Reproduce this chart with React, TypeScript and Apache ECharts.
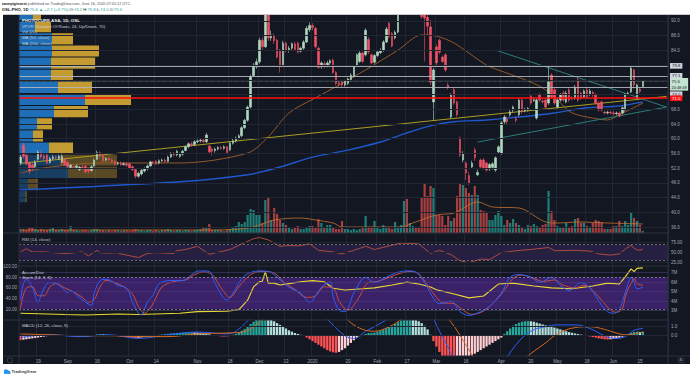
import React, { useEffect, useRef } from 'react';
import * as echarts from 'echarts';

// ---------- calendar ----------
const START_DATE = '2019-08-09';
const HOLIDAYS = ['2019-12-24', '2019-12-25', '2019-12-26', '2019-12-31', '2020-01-01', '2020-04-09', '2020-04-10', '2020-04-13', '2020-05-01', '2020-05-21', '2020-06-01'];
const SLOT_COUNT = 220;

const X_TICK_LABELS: Record<string, string> = {
  '2019-08-19': '19', '2019-09-02': 'Sep', '2019-09-16': '16', '2019-10-01': 'Oct', '2019-10-14': '14',
  '2019-11-01': 'Nov', '2019-11-18': '18', '2019-12-02': 'Dec', '2019-12-13': '13', '2020-01-02': '2020',
  '2020-01-20': '20', '2020-02-03': 'Feb', '2020-02-17': '17', '2020-03-02': 'Mar', '2020-03-16': '16',
  '2020-04-01': 'Apr', '2020-04-20': '20', '2020-05-04': 'May', '2020-05-18': '18', '2020-06-02': 'Jun', '2020-06-15': '15',
};

// ---------- price data: [open, close, low, high] ----------
const OHLC: number[][] = [
  [53.4, 55.0, 52.8, 55.6], [58.3, 55.2, 54.6, 58.9], [55.5, 53.2, 52.8, 56.0], [53.4, 51.2, 50.4, 53.8], [52.9, 52.0, 51.3, 53.6],
  [52.4, 53.6, 51.9, 54.2], [54.4, 56.4, 54.0, 56.9], [56.2, 55.0, 54.6, 56.8], [55.2, 54.6, 54.0, 55.8], [55.6, 53.4, 53.0, 56.0],
  [53.6, 54.6, 53.2, 55.0], [54.6, 55.0, 54.2, 55.6], [55.0, 54.8, 54.3, 55.5], [54.6, 55.2, 54.2, 55.7], [53.6, 55.2, 53.2, 55.8],
  [54.4, 52.9, 52.6, 54.8], [53.6, 52.4, 52.0, 54.0], [52.2, 52.8, 51.9, 53.2], [52.4, 52.2, 51.8, 52.8], [52.2, 52.6, 51.9, 53.0],
  [51.6, 52.3, 51.2, 52.6], [52.3, 52.0, 51.6, 52.8], [52.5, 51.0, 50.6, 52.8], [51.8, 51.2, 50.6, 52.2], [51.4, 52.4, 51.0, 52.8],
  [52.6, 54.2, 52.4, 54.6], [54.4, 56.2, 54.2, 56.8], [56.2, 55.2, 54.8, 56.6], [55.4, 54.0, 53.6, 55.8], [54.2, 54.6, 53.8, 55.0],
  [54.6, 54.2, 53.8, 55.0], [54.2, 53.8, 53.4, 54.6], [53.8, 53.2, 52.8, 54.2], [53.2, 53.4, 52.8, 53.8], [53.4, 53.0, 52.6, 53.8],
  [53.0, 53.2, 52.6, 53.6], [53.2, 52.8, 52.4, 53.6], [53.2, 52.0, 51.8, 53.4], [52.4, 51.6, 51.2, 52.8], [51.6, 49.8, 49.2, 51.8],
  [49.8, 50.6, 49.4, 51.0], [50.4, 51.4, 50.0, 51.8], [51.2, 51.8, 50.8, 52.2], [51.8, 52.6, 51.4, 53.0], [52.6, 53.7, 52.4, 54.0],
  [53.6, 53.4, 53.0, 54.0], [53.8, 53.2, 52.8, 54.2], [53.4, 54.0, 53.0, 54.4], [54.0, 54.2, 53.6, 54.6], [54.2, 53.8, 53.4, 54.6],
  [53.8, 55.0, 53.6, 55.4], [55.0, 56.0, 54.8, 56.4], [56.0, 55.6, 55.2, 56.4], [55.6, 56.6, 55.2, 57.0], [55.2, 55.8, 54.8, 56.2],
  [55.8, 56.6, 55.4, 57.0], [56.8, 57.8, 56.6, 58.2], [57.8, 58.6, 57.4, 59.0], [58.6, 58.2, 57.8, 59.2], [58.4, 59.2, 58.0, 59.6],
  [59.2, 59.4, 58.8, 59.8], [59.4, 59.6, 59.0, 60.0], [59.6, 59.2, 58.8, 60.0], [59.2, 61.0, 58.8, 61.6], [58.0, 56.4, 56.0, 58.4],
  [57.2, 56.6, 55.4, 57.6], [56.8, 57.2, 56.2, 57.6], [57.2, 57.6, 56.8, 58.0], [57.6, 57.4, 57.0, 58.0], [57.4, 57.8, 57.0, 58.2],
  [57.8, 56.2, 55.8, 58.0], [57.0, 58.8, 56.6, 59.2], [58.8, 59.4, 58.4, 60.0], [59.4, 60.2, 59.0, 60.6], [60.2, 60.8, 59.8, 61.2],
  [60.8, 63.0, 60.4, 63.4], [63.0, 65.0, 62.6, 65.4], [65.0, 68.6, 64.6, 69.0], [68.6, 76.8, 68.2, 77.4], [77.2, 80.0, 76.8, 80.6],
  [79.6, 80.9, 79.0, 81.8], [80.9, 86.8, 80.4, 87.4], [86.8, 85.0, 84.2, 87.6], [85.0, 96.0, 84.6, 99.0], [95.5, 87.4, 86.6, 97.0],
  [87.4, 88.2, 86.6, 89.4], [88.0, 86.6, 85.8, 88.6], [86.8, 82.2, 81.8, 87.2], [84.0, 79.6, 78.0, 84.4], [80.0, 86.0, 79.6, 86.6],
  [86.0, 84.0, 83.4, 86.4], [84.0, 84.6, 83.4, 85.2], [84.6, 85.8, 84.0, 86.2], [85.8, 84.2, 83.8, 86.4], [86.0, 83.6, 83.2, 86.4],
  [83.8, 84.6, 83.4, 85.0], [84.6, 86.3, 84.2, 86.8], [86.3, 90.0, 86.0, 90.6], [89.6, 90.8, 89.0, 91.6], [90.8, 90.2, 89.4, 91.4],
  [90.0, 85.0, 84.6, 90.4], [84.6, 79.4, 79.0, 85.0], [79.6, 80.6, 79.0, 81.0], [80.4, 79.8, 79.2, 81.0], [79.8, 80.6, 79.4, 81.2],
  [80.6, 81.2, 80.0, 81.6], [81.4, 78.0, 77.6, 81.8], [78.0, 75.0, 74.6, 78.4], [75.2, 74.8, 74.2, 75.8], [75.4, 74.6, 74.0, 75.8],
  [74.6, 75.6, 74.2, 76.0], [75.0, 76.2, 74.6, 76.6], [76.0, 77.3, 75.6, 77.8], [77.0, 79.6, 76.6, 80.0], [80.0, 82.8, 79.6, 83.2],
  [81.0, 83.3, 80.6, 83.8], [83.3, 81.0, 80.6, 83.6], [82.8, 89.5, 82.4, 90.0], [87.0, 83.6, 83.0, 87.6], [82.8, 80.6, 80.2, 83.2],
  [80.8, 82.6, 80.4, 83.0], [82.6, 83.6, 82.2, 84.0], [83.4, 84.0, 83.0, 84.6], [84.0, 86.3, 83.6, 86.8], [86.3, 89.8, 86.0, 90.4],
  [91.4, 87.7, 87.2, 91.8], [88.6, 85.2, 84.8, 89.0], [87.4, 89.0, 87.0, 89.4], [89.0, 94.4, 88.6, 95.0], [94.4, 97.5, 94.0, 98.4],
  [97.5, 99.0, 96.6, 100.2], [99.0, 98.0, 96.8, 100.4], [98.0, 101.0, 97.6, 101.8], [101.0, 102.5, 100.2, 104.0], [102.5, 100.0, 99.0, 103.0],
  [100.0, 98.0, 97.0, 100.8], [98.0, 93.2, 92.6, 98.4], [94.0, 92.8, 81.0, 95.0], [93.0, 90.6, 88.0, 94.0], [90.4, 75.4, 74.6, 92.3],
  [70.0, 78.7, 65.0, 79.2], [84.9, 80.6, 80.0, 85.6], [86.8, 83.5, 83.0, 87.2], [82.2, 81.0, 80.6, 82.6], [82.8, 78.7, 78.2, 83.2],
  [74.6, 74.0, 73.4, 75.2], [65.9, 71.9, 65.4, 72.4], [73.3, 69.7, 69.2, 73.8], [70.0, 66.5, 66.0, 70.4], [60.2, 55.6, 55.0, 60.6],
  [54.2, 56.0, 53.6, 56.6], [53.4, 50.7, 48.8, 53.8], [50.0, 48.0, 47.4, 51.0], [52.3, 53.4, 51.8, 54.0], [57.0, 54.8, 54.0, 57.6],
  [50.2, 50.8, 49.8, 51.6], [54.2, 52.3, 51.8, 54.6], [54.2, 52.0, 51.6, 54.8], [53.4, 51.5, 51.0, 53.8], [51.8, 53.0, 51.2, 53.4],
  [52.2, 53.2, 51.6, 53.6], [51.5, 54.8, 51.0, 55.2], [56.4, 57.8, 56.0, 58.2], [56.0, 64.3, 55.6, 64.8], [64.6, 65.9, 64.0, 66.4],
  [65.4, 64.6, 64.0, 66.0], [66.5, 67.3, 66.0, 67.8], [67.8, 68.6, 67.2, 69.0], [65.4, 65.0, 64.4, 66.0], [66.5, 70.5, 66.0, 71.0],
  [70.5, 67.3, 66.8, 71.0], [67.6, 67.8, 67.2, 68.4], [67.8, 68.2, 67.4, 68.6], [71.6, 69.7, 69.2, 72.0], [70.4, 70.6, 70.0, 71.2],
  [65.6, 70.5, 65.2, 71.0], [71.9, 70.5, 70.0, 72.4], [70.2, 70.0, 69.6, 70.8], [70.5, 68.6, 68.2, 71.0], [69.7, 75.4, 69.2, 79.5],
  [77.3, 71.3, 70.8, 77.8], [73.3, 69.7, 69.2, 73.8], [68.6, 70.5, 68.2, 71.0], [70.5, 71.9, 70.0, 72.4], [72.4, 70.5, 70.0, 73.0],
  [70.0, 72.4, 69.6, 73.0], [73.3, 70.5, 70.0, 73.8], [71.0, 70.8, 70.4, 71.6], [71.0, 74.0, 70.6, 74.6], [76.0, 70.5, 70.0, 76.6],
  [72.4, 71.0, 70.6, 72.8], [71.4, 73.0, 71.0, 73.4], [73.3, 71.4, 71.0, 73.8], [72.0, 73.0, 71.6, 73.6], [72.6, 71.9, 71.4, 73.0],
  [71.9, 69.7, 69.2, 72.4], [69.7, 67.8, 67.4, 70.2], [70.0, 67.8, 67.4, 70.4], [67.2, 67.0, 66.6, 67.6], [67.0, 67.2, 66.6, 67.6],
  [67.2, 67.0, 66.6, 67.6], [67.0, 66.8, 66.4, 67.6], [66.8, 67.0, 66.4, 67.4], [67.0, 66.2, 65.8, 67.4], [67.0, 68.4, 66.6, 68.8],
  [67.8, 71.9, 67.4, 72.4], [72.2, 72.4, 71.8, 72.8], [72.7, 79.2, 72.4, 79.8], [78.7, 74.6, 73.6, 79.0], [71.0, 74.6, 70.6, 75.0],
  [73.5, 72.9, 72.4, 73.8], [74.2, 75.6, 74.0, 75.8],
];

const VOLUME: number[] = [
  4, 4, 3, 5, 6, 4, 3, 4, 3, 3, 4, 5, 3, 3, 4, 3,
  3, 7, 3, 3, 2, 3, 3, 2, 3, 4, 4, 3, 3, 2, 3, 2, 3, 3, 2, 3, 3, 2, 3, 4, 3,
  3, 2, 3, 3, 2, 3, 2, 3, 3, 4, 3, 2, 3, 3, 2, 3, 3, 2, 3, 3, 4, 5, 5, 9, 3, 3, 3, 3, 2, 3,
  4, 5, 7, 11, 9, 11, 18, 24, 23, 18,
  18, 10, 33, 36, 13, 25, 19, 13, 10, 8,
  5, 4, 5, 7, 4, 4, 5, 7, 7, 5,
  14, 10, 6, 8, 8, 5, 4, 4, 12, 4,
  4, 3, 4, 3, 4, 5, 17, 6, 5, 12,
  5, 4, 8, 5, 5, 4, 11, 6, 8, 32,
  34, 10, 7, 6, 5, 36, 50, 37, 47, 45,
  18, 18, 17, 8, 17, 12, 15, 37, 50, 48,
  45, 40, 38, 47, 38, 23, 22, 20, 13, 13,
  18, 22, 17, 8, 13, 10, 14, 10, 8, 6,
  4, 8, 7, 9, 7, 6, 8, 9, 42, 22,
  13, 7, 6, 6, 10, 6, 7, 14, 15, 10,
  10, 7, 6, 10, 13, 12, 11, 4, 4, 4,
  7, 7, 12, 7, 12, 8, 21, 15, 12, 8, 2,
];

const VOL_MA_PTS = [[0, 3], [40, 3], [60, 3], [72, 3.5], [79, 6], [86, 13], [95, 15], [100, 13], [106, 10], [109, 6], [120, 6], [129, 6], [133, 10], [141, 18], [147, 20], [155, 31], [160, 26], [169, 25], [178, 11], [182, 10], [189, 11], [199, 10], [211, 9]];

const MA50_PTS = [[0, 50.7], [10, 52.3], [27, 53.4], [40, 53.4], [54, 53.4], [77, 56.1], [84, 60.5], [91, 67.0], [100, 71.1], [108, 74.6], [117, 78.7], [128, 84.1], [136, 88.2], [141, 87.9], [147, 86.0], [158, 80.0], [164, 78.1], [173, 75.4], [178, 73.3], [183, 69.7], [187, 67.0], [194, 65.6], [199, 65.1], [203, 66.5], [211, 69.7]];
const MA200_PTS = [[0, 46.1], [54, 48.3], [77, 50.2], [88, 52.3], [99, 55.0], [111, 56.9], [122, 59.1], [131, 61.6], [139, 63.5], [147, 64.6], [158, 65.1], [169, 65.9], [181, 67.0], [192, 68.4], [203, 68.9], [211, 70.0]];

const TREND_YELLOW = [[0, 53.3], [219, 71.5]];
const TREND_TEAL_DOWN = [[161, 84.1], [219, 68.6]];
const TREND_TEAL_UP = [[155, 59.1], [219, 68.6]];

// VPVR rows: [low, high, upVolume, downVolume, inValueArea]
const VPVR_ROWS = [
  [42.6, 45.9, 6, 2, 0], [45.9, 49.2, 9, 10, 0], [49.2, 52.5, 49, 49, 0], [52.5, 55.8, 41, 57, 0],
  [55.8, 59.1, 30, 24, 1], [59.1, 62.4, 14, 10, 1], [62.4, 65.7, 18, 15, 1], [65.7, 69.0, 35, 34, 1],
  [69.0, 72.3, 66, 46, 1], [72.3, 75.6, 39, 34, 1], [75.6, 78.9, 32, 22, 1], [78.9, 82.2, 32, 44, 1],
  [82.2, 85.5, 33, 47, 1], [85.5, 88.8, 33, 21, 1], [88.8, 92.1, 16, 16, 1], [92.1, 95.4, 14, 8, 1],
];

const PRICE_TICKS = [36, 40, 44, 48, 52, 56, 60, 64, 68, 72, 76, 80, 84, 88, 92];
const PRICE_TICKS_HIDDEN = [72, 76, 80];
const GRAY_LEVELS = [79.8, 77.1];
const LOWER_GRAY_LEVEL = 74.0;
const RED_LEVEL = 71.0;
const LAST_PRICE = 75.6;
const COUNTDOWN = '20:48:48';

const RSI_PTS = [[0, 52], [2, 60], [4, 52], [8, 52], [13, 49], [16, 48], [21, 52], [23, 42], [26, 56], [27, 50], [29, 49], [33, 50], [34, 47], [40, 38], [43, 48], [45, 50], [46, 50], [52, 48], [53, 55], [56, 58], [60, 66], [64, 46], [71, 58], [76, 75], [79, 85], [81, 88], [84, 82], [88, 66], [91, 68], [94, 67], [98, 72], [101, 56], [106, 52], [109, 47], [113, 56], [117, 66], [120, 58], [125, 67], [129, 74], [135, 72], [139, 48], [142, 56], [146, 45], [149, 30], [152, 25], [156, 34], [159, 33], [163, 50], [168, 55], [173, 58], [179, 63], [181, 55], [188, 56], [193, 54], [196, 47], [200, 44], [203, 47], [205, 59], [207, 69], [208, 61], [209, 57], [210, 56], [211, 59]];
const RSI_TICKS = [75, 50, 25];
const RSI_BANDS = [70, 30];

const STOCH_K_PTS = [[0, 37], [1, 68], [2, 76], [4, 61], [6, 33], [7, 46], [9, 68], [11, 70], [14, 61], [16, 51], [17, 55], [19, 46], [22, 33], [24, 27], [25, 50], [27, 74], [29, 76], [33, 65], [36, 59], [38, 33], [40, 12], [41, 9], [43, 33], [45, 46], [47, 68], [52, 74], [55, 74], [57, 80], [59, 89], [61, 92], [64, 91], [66, 68], [70, 37], [72, 50], [76, 83], [81, 92], [84, 91], [87, 80], [91, 61], [95, 50], [98, 33], [102, 61], [105, 71], [106, 43], [108, 18], [110, 15], [113, 50], [117, 80], [120, 70], [124, 80], [127, 88], [131, 92], [134, 90], [137, 70], [140, 40], [142, 30], [146, 35], [149, 15], [152, 8], [156, 15], [159, 25], [163, 50], [166, 80], [169, 85], [173, 80], [176, 70], [180, 80], [183, 65], [186, 55], [190, 70], [193, 60], [197, 27], [199, 15], [201, 12], [203, 18], [204, 33], [206, 68], [207, 80], [208, 71], [209, 58], [211, 61]];
const STOCH_D_PTS = [[0, 21], [2, 60], [4, 62], [6, 45], [8, 45], [10, 62], [12, 68], [15, 60], [18, 52], [21, 42], [23, 33], [25, 38], [27, 62], [29, 74], [32, 70], [35, 62], [38, 48], [40, 25], [42, 12], [44, 22], [46, 42], [48, 62], [52, 72], [56, 75], [59, 85], [62, 90], [65, 85], [68, 60], [71, 42], [74, 62], [78, 85], [82, 91], [86, 88], [89, 72], [93, 57], [97, 42], [100, 45], [103, 62], [106, 60], [108, 35], [111, 18], [114, 35], [118, 70], [121, 72], [125, 80], [129, 88], [132, 91], [135, 86], [138, 65], [141, 42], [143, 32], [147, 30], [150, 18], [153, 10], [157, 16], [160, 30], [164, 55], [167, 78], [170, 84], [174, 78], [177, 72], [181, 75], [184, 65], [188, 60], [191, 65], [194, 55], [198, 30], [200, 18], [202, 14], [204, 20], [205, 43], [206, 58], [207, 68], [208, 78], [209, 68], [211, 65]];
const STOCH_TICKS = [100, 80, 60, 40, 20];
const STOCH_BANDS = [80, 20];

// Accumulation / Distribution, millions
const AD_PTS = [[0, 2.73], [15, 2.6], [22, 2.55], [33, 2.65], [40, 2.6], [54, 2.73], [60, 2.9], [70, 2.95], [74, 3.1], [75, 3.42], [77, 4.1], [79, 5.5], [81, 6.05], [82, 6.1], [83, 7.1], [84, 5.9], [86, 5.9], [88, 5.7], [91, 5.85], [95, 6.05], [99, 6.16], [103, 6.05], [106, 5.36], [110, 5.18], [116, 5.3], [120, 5.4], [126, 5.7], [131, 6.0], [135, 5.8], [139, 5.5], [141, 5.2], [147, 4.75], [152, 4.35], [157, 4.55], [162, 5.8], [167, 5.9], [174, 5.6], [180, 5.4], [187, 5.3], [194, 5.6], [199, 5.9], [203, 5.8], [205, 6.55], [207, 7.4], [208, 7.1], [209, 7.45], [211, 7.5]];
const AD_TICKS = [7, 6, 5, 4, 3];

const MACD_PTS = [[0, -0.2], [10, 0.1], [20, -0.1], [30, 0.1], [40, -0.3], [50, 0.1], [60, 0.4], [70, 0.2], [75, 1.0], [80, 3.0], [84, 5.0], [90, 4.5], [95, 3.8], [100, 3.0], [105, 1.5], [110, 0.0], [113, -0.3], [117, 0.5], [120, 1.0], [125, 2.0], [130, 3.5], [135, 4.2], [139, 2.5], [142, 0.5], [146, -2.0], [150, -5.0], [155, -6.5], [160, -5.5], [163, -3.5], [168, -1.0], [173, 0.5], [178, 1.0], [182, 1.2], [188, 1.2], [193, 0.8], [198, 0.0], [202, -0.3], [205, -0.1], [208, 0.6], [211, 0.8]];
const SIGNAL_PTS = [[0, 0.2], [10, 0.1], [20, 0.0], [30, 0.0], [40, -0.1], [50, -0.1], [60, 0.2], [70, 0.3], [75, 0.4], [80, 1.2], [84, 2.5], [90, 3.8], [95, 4.0], [100, 3.8], [105, 3.2], [110, 2.0], [113, 1.2], [117, 0.6], [120, 0.5], [125, 1.0], [130, 2.0], [135, 3.0], [139, 3.2], [142, 2.8], [146, 1.5], [150, -0.5], [155, -3.0], [160, -4.6], [163, -4.6], [168, -3.5], [173, -2.0], [178, -0.8], [182, 0.2], [188, 0.9], [193, 1.0], [198, 0.7], [202, 0.3], [205, 0.1], [208, 0.2], [211, 0.4]];
const MACD_HIST: number[] = [
  -0.5, -0.45, -0.4, -0.35, -0.3, -0.25,
  -0.2, -0.15, -0.1, -0.05, 0.0, 0.05, 0.08,
  0.06, 0.04, 0.02, -0.02, -0.06, -0.1, -0.12, -0.14,
  -0.15, -0.12, -0.08, 0.0, 0.08, 0.15, 0.18, 0.16,
  0.12, 0.08, 0.04, 0.0, -0.04, -0.08, -0.12, -0.15,
  -0.2, -0.25, -0.28, -0.25, -0.2, -0.15, -0.1, -0.04,
  0.02, 0.06, 0.1, 0.14, 0.17, 0.2, 0.24, 0.27,
  0.3, 0.32, 0.34, 0.36, 0.38, 0.4, 0.38, 0.35,
  0.32, 0.28, 0.24, 0.15, 0.08, 0.02,
  -0.04, -0.08, -0.1, -0.06, 0.02, 0.1, 0.2,
  0.35, 0.55, 0.75, 1.0, 1.3, 1.55, 1.75, 1.9, 2.0, 2.05, 2.0,
  1.8, 1.6, 1.4, 1.2, 1.0, 0.8, 0.6, 0.45, 0.3, 0.2, 0.1, 0.02,
  -0.2, -0.4, -0.6, -0.8, -1.0, -1.2, -1.4, -1.6, -1.75, -1.85, -1.9, -1.8, -1.6, -1.4,
  -1.1, -0.8, -0.5, -0.25, -0.05, 0.1, 0.2, 0.3,
  0.3, 0.35, 0.45, 0.55, 0.7, 0.85, 1.0, 1.1, 1.3, 1.5,
  1.7, 1.9, 2.0, 2.1, 2.0, 1.8, 1.6, 1.4, 1.1, 0.7,
  0.1, -0.6, -1.2, -1.8, -2.3, -2.8, -3.2, -3.5, -3.6, -3.5, -3.3, -3.0,
  -2.7, -2.4, -2.2, -2.0, -1.8, -1.6, -1.4, -1.2, -1.0, -0.8, -0.6, -0.4, -0.2,
  0.2, 0.5, 0.8, 1.1, 1.3, 1.45, 1.55, 1.6, 1.62, 1.6, 1.55, 1.45,
  1.35, 1.25, 1.15, 1.05, 1.0, 0.9, 0.8, 0.7, 0.6, 0.5, 0.4, 0.32, 0.25, 0.18, 0.12, 0.06,
  0.0, -0.08, -0.15, -0.22, -0.3, -0.36, -0.4, -0.42, -0.4, -0.36, -0.3, -0.22, -0.12, 0.0,
  0.15, 0.3, 0.42, 0.45, 0.42, 0.45,
];
const MACD_TICKS = [1, 0];

// ---------- styling ----------
const FONT = '"Liberation Sans", Arial, sans-serif';
const BG = '#131722';
const GRID_COLOR = '#222632';
const AXIS_TEXT = '#a3a6af';
const UP = '#b0d8c0';
const DOWN = '#ef5366';
const PL = 19;
const PR = 22;
const HIDDEN_LINE = { color: 'rgba(0,0,0,0)', width: 0 };

function buildDates(): string[] {
  const out: string[] = [];
  const d = new Date(START_DATE + 'T00:00:00Z');
  while (out.length < SLOT_COUNT) {
    const day = d.getUTCDay();
    const iso = d.toISOString().slice(0, 10);
    if (day !== 0 && day !== 6 && HOLIDAYS.indexOf(iso) < 0) out.push(iso);
    d.setUTCDate(d.getUTCDate() + 1);
  }
  return out;
}

function buildOption() {
  const DATES = buildDates();
  const isTick = (idx: number) => X_TICK_LABELS[DATES[idx]] !== undefined;

  const grid = (top: number, height: number) => ({ left: PL, right: PR, top, height, containLabel: false, outerBoundsMode: 'none' });
  const catAxis = (gridIndex: number, opts: any = {}) => ({
    type: 'category', gridIndex, data: DATES, boundaryGap: true,
    axisLine: { show: false }, axisTick: { show: false }, axisLabel: { show: false },
    splitLine: { show: true, interval: (i: number) => isTick(i), lineStyle: { color: GRID_COLOR, width: 1 } },
    ...opts,
  });
  const valAxis = (gridIndex: number, min: number, max: number) => ({
    type: 'value', gridIndex, min, max, show: false, splitLine: { show: false }, scale: true,
  });
  const dummy = (xi: number, yi: number, extra: any) => ({
    type: 'line', xAxisIndex: xi, yAxisIndex: yi, data: [[0, -1000]], symbol: 'none',
    lineStyle: { opacity: 0 }, silent: true, z: 1, ...extra,
  });
  const axisLabelStyle = { show: true, color: AXIS_TEXT, fontSize: 4.5, fontFamily: FONT, opacity: 1 };
  const lineSeries = (xi: number, yi: number, data: any, color: string, width: number, z: number, smooth: any = false) => ({
    type: 'line', xAxisIndex: xi, yAxisIndex: yi, data, symbol: 'none', smooth, silent: true, z,
    lineStyle: { color, width }, clip: true,
  });

  const volData = VOLUME.map((v, i) => ({
    value: v,
    itemStyle: { color: OHLC[i][1] >= OHLC[i][0] ? 'rgba(38,166,154,0.72)' : 'rgba(239,83,80,0.68)' },
  }));
  const histData = MACD_HIST.map((v, i) => {
    const prev = i > 0 ? MACD_HIST[i - 1] : v;
    const color = v >= 0 ? (v >= prev ? '#26a69a' : '#b2dfdb') : (v <= prev ? '#ff5252' : '#ffcdd2');
    return { value: v, itemStyle: { color } };
  });

  const tagLabel = (text: string, bg: string, fg: string, offsetY = 0) => ({
    show: true, position: 'end', distance: 2, formatter: text, backgroundColor: bg, color: fg,
    fontSize: 4.3, fontFamily: FONT, padding: [1, 2, 0.6, 2], offset: [0, offsetY],
  });

  const priceMarkLines = [
    ...GRAY_LEVELS.map((v) => ({ yAxis: v, lineStyle: { color: '#b2b5be', width: 0.9, type: 'solid' }, label: tagLabel(v.toFixed(1), '#d1d4dc', '#131722') })),
    {
      yAxis: LAST_PRICE, lineStyle: { color: '#9fc9b0', width: 0.6, type: 'dotted', opacity: 0.7 },
      label: {
        show: true, position: 'end', distance: 2, formatter: '{a|' + LAST_PRICE.toFixed(1) + '}\n{b|' + COUNTDOWN + '}',
        backgroundColor: '#c3e3d0', padding: [1, 1.5, 0.6, 1.5], offset: [0, 3], opacity: 1,
        rich: {
          a: { fontSize: 4.3, color: '#131722', fontFamily: FONT, lineHeight: 5.5 },
          b: { fontSize: 3.9, color: '#131722', fontFamily: FONT, lineHeight: 5.5 },
        },
      },
    },
    { yAxis: LOWER_GRAY_LEVEL, lineStyle: { color: '#b2b5be', width: 0.9, type: 'solid' }, label: tagLabel(LOWER_GRAY_LEVEL.toFixed(1), '#d1d4dc', '#131722', 7) },
    { yAxis: RED_LEVEL, lineStyle: { color: '#ff1010', width: 1.5, type: 'solid' }, label: tagLabel(RED_LEVEL.toFixed(1), '#ff1010', '#ffffff') },
  ];

  const txt = (x: number, y: number, text: string, fill: string, size: number, bold = false, extra: any = {}) => ({
    type: 'text', x, y, z: 120,
    style: { text, fill, fontSize: size, fontFamily: FONT, fontWeight: bold ? 'bold' : 'normal', verticalAlign: 'middle', ...extra },
  });
  const hline = (y: number, x1: number, x2: number, color = '#2a2e39') => ({
    type: 'line', z: 110, shape: { x1, y1: y, x2, y2: y }, style: { stroke: color, lineWidth: 1 },
  });
  const vline = (x: number, y1: number, y2: number, color = '#2a2e39') => ({
    type: 'line', z: 110, shape: { x1: x, y1, x2: x, y2 }, style: { stroke: color, lineWidth: 1 },
  });

  return {
    animation: false,
    backgroundColor: BG,
    textStyle: { fontFamily: FONT },
    grid: [grid(15, 218), grid(15, 218), grid(170, 63), grid(233, 33), grid(266, 54), grid(320, 36)],
    xAxis: [
      catAxis(0),
      { type: 'value', gridIndex: 1, min: 0, max: 649, show: false },
      catAxis(2, { splitLine: { show: false } }),
      catAxis(3),
      catAxis(4),
      catAxis(5, {
        axisLabel: {
          show: true, interval: (i: number) => isTick(i), formatter: (v: string) => X_TICK_LABELS[v] || '',
          color: AXIS_TEXT, fontSize: 4.5, fontFamily: FONT, margin: 2.5,
        },
      }),
    ],
    yAxis: [
      valAxis(0, 34.37, 93.63),
      valAxis(1, 34.37, 93.63),
      valAxis(2, 0, 63),
      valAxis(3, 16.75, 99.25),
      valAxis(4, -0.75, 101.3),
      valAxis(4, 2.02, 7.7),
      valAxis(5, -2.256, 1.744),
    ],
    series: [
      // price grid lines + right scale labels
      dummy(0, 0, {
        markLine: {
          silent: true, symbol: ['none', 'none'], animation: false,
          lineStyle: { color: GRID_COLOR, width: 1, type: 'solid' },
          label: { ...axisLabelStyle, position: 'end', distance: 3 },
          data: PRICE_TICKS.map((v) => ({ yAxis: v, label: { formatter: PRICE_TICKS_HIDDEN.indexOf(v) >= 0 ? '' : v.toFixed(1) } })),
        },
      }),
      // VPVR
      {
        type: 'custom', xAxisIndex: 1, yAxisIndex: 1, data: VPVR_ROWS, z: 1.5, silent: true, clip: true,
        encode: { x: [2, 3], y: [0, 1] },
        renderItem: (params: any, api: any) => {
          const lo = api.value(0), hi = api.value(1), up = api.value(2), dn = api.value(3), va = api.value(4);
          const a = api.coord([0, hi]);
          const b = api.coord([up, lo]);
          const c = api.coord([up + dn, lo]);
          const y = a[1] + 0.5;
          const h = b[1] - a[1] - 1;
          return {
            type: 'group',
            children: [
              { type: 'rect', shape: { x: a[0], y, width: b[0] - a[0], height: h }, style: { fill: va ? '#1e6fb8' : 'rgba(33,150,243,0.30)' } },
              { type: 'rect', shape: { x: b[0], y, width: c[0] - b[0], height: h }, style: { fill: va ? '#c49b30' : 'rgba(251,192,45,0.30)' } },
            ],
          };
        },
      },
      // volume
      { type: 'bar', xAxisIndex: 2, yAxisIndex: 2, data: volData, barWidth: 2.2, z: 1.6, silent: true },
      lineSeries(2, 2, VOL_MA_PTS, '#c8742f', 0.8, 1.7, 0.3),
      // moving averages and drawings
      lineSeries(0, 0, MA200_PTS, '#1f57cc', 1.4, 2.2, 0.3),
      lineSeries(0, 0, MA50_PTS, '#935a28', 1, 2.2, 0.3),
      lineSeries(0, 0, TREND_YELLOW, '#a99d22', 1, 2.3),
      lineSeries(0, 0, TREND_TEAL_DOWN, '#2b7d79', 1, 2.3),
      lineSeries(0, 0, TREND_TEAL_UP, '#2b7d79', 1, 2.3),
      // candles
      {
        type: 'candlestick', xAxisIndex: 0, yAxisIndex: 0, data: OHLC, barWidth: 2, z: 3, silent: true, clip: true,
        itemStyle: { color: UP, color0: DOWN, borderColor: UP, borderColor0: DOWN, borderWidth: 0.6 },
        markLine: { silent: true, symbol: ['none', 'none'], animation: false, data: priceMarkLines },
      },
      // RSI panel
      dummy(3, 3, {
        markArea: { silent: true, itemStyle: { color: '#271f43' }, data: [[{ yAxis: RSI_BANDS[1] }, { yAxis: RSI_BANDS[0] }]] },
        markLine: {
          silent: true, symbol: ['none', 'none'], animation: false,
          data: [
            ...RSI_TICKS.map((v) => ({ yAxis: v, lineStyle: { color: GRID_COLOR, width: 1, type: 'solid' }, label: { ...axisLabelStyle, position: 'end', distance: 3, formatter: v.toFixed(2) } })),
            ...RSI_BANDS.map((v) => ({ yAxis: v, lineStyle: { color: '#7d808a', width: 0.8, type: [2, 2] }, label: { show: false } })),
          ],
        },
      }),
      lineSeries(3, 3, RSI_PTS, '#b9503e', 0.9, 3),
      // Stoch / Accum-Dist panel
      dummy(4, 4, {
        markArea: { silent: true, itemStyle: { color: '#3a2168' }, data: [[{ yAxis: STOCH_BANDS[1] }, { yAxis: STOCH_BANDS[0] }]] },
        markLine: {
          silent: true, symbol: ['none', 'none'], animation: false,
          data: [
            ...STOCH_TICKS.map((v) => ({ yAxis: v, lineStyle: HIDDEN_LINE, label: { ...axisLabelStyle, position: 'start', distance: 2, formatter: v.toFixed(2) } })),
            ...STOCH_BANDS.map((v) => ({ yAxis: v, lineStyle: { color: '#8a8d97', width: 0.8, type: [2, 2] }, label: { show: false } })),
          ],
        },
      }),
      dummy(4, 5, {
        markLine: {
          silent: true, symbol: ['none', 'none'], animation: false,
          data: AD_TICKS.map((v) => ({ yAxis: v, lineStyle: { color: '#4a3a78', width: 0.6, type: 'solid' }, label: { ...axisLabelStyle, position: 'end', distance: 3, formatter: v + 'M' } })),
        },
      }),
      lineSeries(4, 5, AD_PTS, '#e9d934', 1.1, 3),
      lineSeries(4, 4, STOCH_D_PTS, '#cf4f3c', 1, 3.1, 0.35),
      lineSeries(4, 4, STOCH_K_PTS, '#2962ff', 1, 3.2, 0.35),
      // MACD panel
      dummy(5, 6, {
        markLine: {
          silent: true, symbol: ['none', 'none'], animation: false,
          data: MACD_TICKS.map((v) => ({ yAxis: v, lineStyle: { color: GRID_COLOR, width: 1, type: 'solid' }, label: { ...axisLabelStyle, position: 'end', distance: 3, formatter: v.toFixed(1) } })),
        },
      }),
      { type: 'bar', xAxisIndex: 5, yAxisIndex: 6, data: histData, barWidth: 2.3, z: 2, silent: true },
      lineSeries(5, 6, MACD_PTS, '#2962ff', 1, 3, 0.4),
      lineSeries(5, 6, SIGNAL_PTS, '#d86a1e', 1, 3, 0.4),
    ],
    graphic: [
      // white page margins around the dark chart
      { type: 'rect', z: 100, shape: { x: 0, y: 0, width: 690, height: 14.5 }, style: { fill: '#ffffff' } },
      { type: 'rect', z: 100, shape: { x: 0, y: 0, width: 3, height: 377 }, style: { fill: '#ffffff' } },
      { type: 'rect', z: 100, shape: { x: 0, y: 364, width: 690, height: 13 }, style: { fill: '#ffffff' } },
      hline(14.5, 3, 690, '#c8c8c8'),
      // pane separators
      hline(233, 3, 668, '#2e323e'),
      hline(266, 3, 668, '#2e323e'),
      hline(320, 3, 668, '#2e323e'),
      hline(356, 3, 690, '#2e323e'),
      vline(19, 15, 364, '#2a2e39'),
      vline(668, 15, 364, '#2e323e'),
      // header
      txt(1.7, 3.8, '', '#131722', 3.8, false, {
        text: '{b|savepiginvest} {n|published on TradingView.com, June 16, 2020 07:41:12 UTC}',
        rich: {
          b: { fontSize: 3.8, fontWeight: 'bold', fill: '#131722', fontFamily: FONT },
          n: { fontSize: 3.8, fill: '#50535e', fontFamily: FONT },
        },
      }),
      txt(1.7, 9.8, '', '#131722', 4.2, false, {
        text: '{b|OSL:PHO, 1D} {t|75.6 \u25B2 +2.7 (+3.7%)} {n|O:}{t|74.2} {n|H:}{t|75.8} {n|L:}{t|74.0} {n|C:}{t|75.6}',
        rich: {
          b: { fontSize: 4.2, fontWeight: 'bold', fill: '#131722', fontFamily: FONT },
          n: { fontSize: 4.2, fill: '#131722', fontFamily: FONT },
          t: { fontSize: 4.2, fill: '#26a69a', fontFamily: FONT },
        },
      }),
      // main pane legend
      txt(22, 20.7, 'PHOTOCURE ASA, 1D, OSL', '#e6e8ee', 4.4, true),
      txt(22, 26.2, 'VPVR (Number Of Rows, 24, Up/Down, 70)', '#c9ccd4', 4.3),
      txt(22, 31.8, 'Vol (20)', '#c9ccd4', 4.3),
      txt(22, 37.4, 'MA (50, close)', '#c9ccd4', 4.3),
      txt(22, 43, 'MA (200, close)', '#c9ccd4', 4.3),
      // sub pane legends
      txt(22, 239.3, 'RSI (14, close)', '#c9ccd4', 4.3),
      txt(22, 272.3, 'Accum/Dist', '#c9ccd4', 4.3),
      txt(22, 277.7, 'Stoch (14, 3, 3)', '#c9ccd4', 4.3),
      txt(22, 325.7, 'MACD (12, 26, close, 9)', '#c9ccd4', 4.3),
      // bottom corner buttons
      { type: 'rect', z: 110, shape: { x: 7.5, y: 358, width: 5, height: 4.5, r: 1 }, style: { fill: 'none', stroke: '#50535e', lineWidth: 0.6 } },
      { type: 'rect', z: 110, shape: { x: 678.5, y: 358, width: 5, height: 4.5, r: 1 }, style: { fill: 'none', stroke: '#50535e', lineWidth: 0.6 } },
      txt(679.6, 360.3, 'A', '#787b86', 3.6, true),
      // TradingView watermark
      { type: 'circle', z: 110, shape: { cx: 6, cy: 371.5, r: 2.2 }, style: { fill: '#2196f3' } },
      { type: 'circle', z: 110, shape: { cx: 8.6, cy: 372.2, r: 1.6 }, style: { fill: '#2196f3' } },
      { type: 'rect', z: 110, shape: { x: 4, y: 372, width: 6.5, height: 1.8 }, style: { fill: '#2196f3' } },
      txt(11.5, 371.8, 'TradingView', '#3b3e48', 4.2, true),
    ],
  };
}

export default function App() {
  const ref = useRef<HTMLDivElement>(null);
  useEffect(() => {
    if (!ref.current) return;
    const chart = echarts.init(ref.current, undefined, { renderer: 'svg' });
    chart.setOption(buildOption() as any);
    return () => chart.dispose();
  }, []);
  return <div ref={ref} style={{ position: 'fixed', left: 0, top: 0, width: 690, height: 377 }} />;
}
